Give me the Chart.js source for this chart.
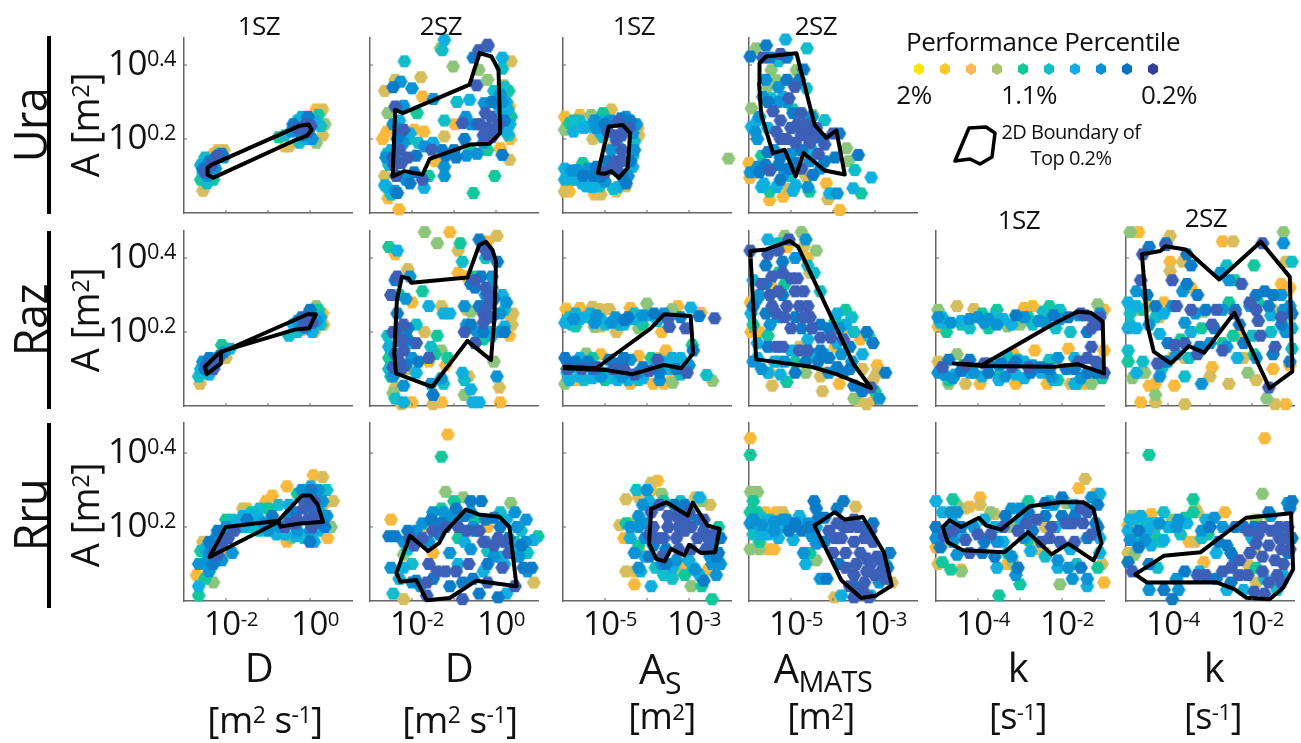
<!DOCTYPE html>
<html><head><meta charset="utf-8">
<script src="https://cdn.jsdelivr.net/npm/chart.js@4"></script>
<style>
html,body{margin:0;padding:0;background:#fff;overflow:hidden}
#stage{position:relative;width:1301px;height:743px;font-family:"Open Sans",sans-serif;color:#111}
canvas{position:absolute}
.t{position:absolute;white-space:nowrap;transform:translate(-50%,-50%);line-height:1;letter-spacing:-.5px}
.t sup{font-size:.62em;vertical-align:baseline;position:relative;top:-.42em;line-height:0}
.t sub{font-size:.72em;vertical-align:baseline;position:relative;top:.32em;line-height:0}
.bar{position:absolute;background:#000;width:4px}
svg{position:absolute;left:0;top:0}
</style></head><body><div id="stage"></div>
<script>
// Percentile rank colours: 0 = 2% ... 9 = 0.2%
const rankColors=['#FFE600','#F9B93A','#D8BD5C','#8DC57A','#12C79C','#10BDC8','#0FB0E0','#0A94D6','#0C7CC8','#3C5FB8'];
const legendColors=['#FFE600','#FBC72B','#F7B955','#A9C46C','#10C99A','#10BFC4','#10AEE3','#0C92D6','#0772C4','#343C9E'];
const rowNames=['Ura','Raz','Rru'];
const yTickValues=[0.2,0.4];
const yTickExponents=['0.2','0.4'];
const xTicksD=[-2,0];
const xTicksAs=[-5,-3];
const xTicksK=[-4,-2];

// [log10 x, log10 A, rank]
const uraD1=[[-2.55,.06,2],[-2.3,.16,1],[-2.2,.17,2],[-2.05,.17,2],[-.6,.18,1],[-.5,.18,2],[.15,.19,3],[.3,.21,2],[.35,.24,3],[.3,.28,2],[.15,.28,1],[-2.6,.09,4],[-2.3,.09,4],[.2,.265,4],[-.75,.205,4],[-2.55,.11,5],[-2.45,.08,5],[-2.5,.15,5],[-.6,.21,5],[.25,.235,5],[-.25,.19,5],[-.3,.25,5],[-2.6,.13,6],[-2.35,.13,6],[-2.15,.16,6],[-.1,.2,6],[-.2,.26,6],[.1,.25,6],[-2.05,.15,7],[-2.25,.12,7],[-2.45,.1,7],[.05,.2,7],[-.45,.22,7],[-.15,.23,7],[-2.55,.12,8],[-2.4,.14,8],[-2.25,.15,8],[-2.1,.16,8],[-.4,.24,8],[-.05,.26,8],[-.2,.21,8],[-2.5,.11,9],[-2.35,.13,9],[-2.2,.155,9],[-.3,.23,9],[-.1,.24,9],[-.05,.22,9],[.02,.235,9]];
const uraD1Edge=[[-2.44,.122],[-2.35,.13],[-.24,.236],[-.03,.239],[.04,.225],[-.07,.209],[-.41,.194],[-2.31,.095],[-2.44,.104],[-2.44,.122]];

const uraD2=[[-2.31,.01,1],[-2.57,.04,1],[-2.65,.33,2],[-2.4,.36,2],[-1.79,.367,2],[-1.75,.315,1],[.32,.288,1],[.1,.175,1],[-.98,.24,1],[-2.7,.2,1],[-2.6,.22,1],[-1.95,.225,1],[-1.72,.22,1],[-1.45,.14,1],[.34,.2,1],[.36,.41,2],[.32,.144,2],[-1.23,.207,2],[-2.65,.1,2],[-1.32,.445,3],[-1.02,.396,3],[-2.57,.27,3],[-.41,.387,3],[-.2,.36,3],[.19,.345,3],[-.03,.1,4],[-.54,.054,4],[-1.88,.27,4],[-1.6,.1,4],[-2.1,.2,4],[.36,.26,4],[-.6,.17,4],[-.2,.17,4],[-1.28,.44,5],[-2.18,.41,5],[-.93,.3,5],[-1.23,.25,5],[.15,.39,5],[.3,.21,5],[-2.55,.13,5],[-2.5,.05,5],[-1.23,.468,6],[-.63,.306,6],[.15,.42,6],[-1.71,.068,6],[-2.65,.075,6],[.25,.22,6],[-2.3,.14,6],[-2.5,.17,6],[-1.5,.19,6],[.33,.24,6],[.1,.28,6],[-2.27,.355,7],[-2,.337,7],[-1.49,.308,7],[-.72,.26,7],[-.28,.297,7],[.02,.297,7],[.1,.32,7],[-1.23,.1,7],[-1.23,.125,7],[-2.62,.15,7],[-2.2,.19,7],[.15,.157,8],[-2.35,.054,8],[-2.45,.34,8],[-2.25,.22,8],[-1.28,.17,8],[-1.0,.17,8],[-.75,.2,8],[-.2,.45,8],[-.54,.42,8],[-.1,.3,8],[.2,.25,8],[-1.9,.155,8],[-2.4,.288,9],[-2.2,.225,9],[-2.1,.15,9],[-2.25,.135,9],[-2.38,.1,9],[-2.43,.13,9],[-1.75,.09,9],[-1.53,.171,9],[-.8,.243,9],[-.46,.345,9],[-.41,.44,9],[-.2,.455,9],[-.37,.24,9],[-.25,.27,9],[-.12,.26,9],[-.2,.23,9],[-.05,.225,9],[-.1,.205,9],[.06,.24,9],[-.3,.21,9]];
const uraD2Fill=[[-.45,.24,8],[-.6,.24,7],[-.3,.19,7],[.15,.3,7],[.25,.3,6],[.2,.34,5],[-.05,.33,5],[.3,.33,4],[.28,.28,6],[-1.2,.155,8],[-.95,.15,8],[-.7,.155,7],[-.45,.16,7],[-2.6,.16,5],[-2.15,.09,7],[-1.95,.11,8],[-2.05,.08,8],[-2.45,.24,7],[-2.3,.25,6],[-2.05,.215,6],[-1.85,.19,5],[-1.7,.18,7],[-2.6,.07,6],[-2.45,.15,9],[-2.3,.17,9],[-2.35,.2,8],[-2.4,.06,7],[-2.2,.29,7]];
const uraD2Edge=[[-2.46,.099],[-2.4,.279],[-2.22,.27],[-.63,.347],[-.39,.432],[-.11,.423],[.06,.387],[.1,.216],[-.16,.187],[-.63,.185],[-1.58,.146],[-1.75,.104],[-2.18,.113],[-2.46,.099]];

const uraAs=[[-5.96,.26,1],[-5.6,.265,1],[-4.22,.23,1],[-4.85,.175,1],[-5.85,.058,1],[-5.25,.05,1],[-5.1,.05,2],[-4.74,.058,1],[-4.5,.072,2],[-5.96,.058,2],[-4.85,.28,2],[-4.2,.21,2],[-5.29,.2,2],[-5.96,.225,3],[-5.33,.265,3],[-2.06,.147,3],[-5.84,.243,4],[-5.05,.27,4],[-5.53,.135,4],[-5.8,.09,4],[-4.65,.175,4],[-5.6,.25,5],[-5.13,.072,5],[-4.3,.193,5],[-4.34,.153,5],[-5.75,.25,5],[-4.8,.065,5],[-5.37,.233,6],[-5.13,.22,6],[-5.96,.09,6],[-5.96,.12,6],[-5.45,.072,6],[-4.7,.07,6],[-4.34,.125,6],[-5.7,.09,6],[-5.21,.23,7],[-4.93,.247,7],[-4.34,.216,7],[-5.68,.116,7],[-5.4,.12,7],[-4.85,.25,7],[-4.4,.25,8],[-5.52,.1,8],[-5.29,.1,8],[-4.62,.256,8],[-4.5,.08,8],[-5.1,.098,8],[-4.93,.22,9],[-4.69,.247,9],[-4.54,.229,9],[-4.73,.197,9],[-4.42,.23,9],[-4.75,.21,9],[-4.6,.21,9],[-4.6,.17,9],[-4.75,.14,9],[-4.6,.14,9],[-4.85,.12,9],[-4.7,.115,9],[-5,.11,9]];
const uraAsFill=[[-5.75,.22,6],[-5.5,.23,6],[-5.25,.25,7],[-5,.24,8],[-4.5,.26,7],[-4.25,.24,7],[-4.3,.17,7],[-4.85,.17,7],[-5.8,.115,7],[-5.55,.08,6],[-5.3,.07,6],[-5,.085,7],[-4.6,.1,8],[-4.45,.1,7],[-4.4,.14,8],[-5.2,.125,8],[-4.95,.14,8],[-5.05,.205,5],[-5.6,.115,5],[-5.15,.25,6]];
const uraAsEdge=[[-5.17,.108],[-4.91,.234],[-4.58,.238],[-4.4,.216],[-4.46,.122],[-4.67,.095],[-4.85,.113],[-5.01,.106],[-5.17,.108]];

const uraAm=[[-5.19,.044,1],[-5.51,.035,1],[-3.84,.008,1],[-4.16,.08,1],[-5.98,.095,1],[-6,.135,1],[-4.12,.037,2],[-5.07,.065,2],[-5.07,.359,2],[-4.65,.1,2],[-4.7,.155,2],[-5.83,.445,3],[-5.47,.386,3],[-5.35,.359,3],[-5.56,.34,3],[-4.87,.386,3],[-5.94,.283,3],[-4.48,.265,3],[-3.68,.175,3],[-3.63,.14,3],[-5.51,.058,4],[-4.56,.058,4],[-5.7,.155,4],[-4.95,.28,4],[-3.33,.053,4],[-4.62,.445,5],[-5.3,.41,5],[-4.63,.337,5],[-4.2,.251,5],[-5.47,.31,5],[-3.48,.116,5],[-5.0,.1,5],[-5.13,.469,6],[-5.94,.233,6],[-5.2,.314,6],[-5.65,.08,6],[-4.89,.075,6],[-3.09,.096,6],[-3.52,.067,6],[-4.08,.053,6],[-5.8,.25,6],[-4.5,.17,6],[-5.85,.22,7],[-5.97,.11,7],[-5.79,.125,7],[-5.15,.11,7],[-5.67,.314,7],[-5.1,.3,7],[-3.9,.053,7],[-5.59,.453,8],[-5.97,.423,8],[-5.25,.09,8],[-5.55,.165,8],[-4.89,.135,8],[-4.48,.103,8],[-4.7,.388,8],[-3.4,.157,8],[-3.85,.215,8],[-3.95,.15,8],[-5.6,.13,8],[-5.67,.42,9],[-5.25,.43,9],[-4.91,.341,9],[-5.43,.275,9],[-5.25,.25,9],[-5.05,.31,9],[-4.85,.24,9],[-4.6,.225,9],[-4.45,.205,9],[-5.0,.23,9],[-4.75,.21,9],[-4.55,.19,9],[-4.2,.185,9],[-4,.215,9],[-4.35,.16,9],[-4.9,.19,9],[-5.25,.2,9]];
const uraAmFill=[[-5.5,.42,8],[-5.1,.42,8],[-5.6,.36,7],[-5.3,.34,7],[-5.1,.36,8],[-4.8,.36,8],[-5.55,.3,8],[-5.3,.3,7],[-4.95,.27,8],[-4.75,.27,9],[-4.5,.26,7],[-5.75,.26,7],[-5.8,.2,7],[-5.55,.23,6],[-5.35,.22,9],[-5.1,.2,9],[-4.8,.23,9],[-4.65,.24,9],[-4.4,.23,9],[-4.25,.2,8],[-5.4,.17,7],[-5.25,.15,8],[-5,.16,7],[-4.75,.17,8],[-4.55,.14,7],[-4.2,.14,8],[-5.75,.11,8],[-5.5,.115,9],[-5.3,.13,8],[-5.05,.12,8],[-4.75,.12,9],[-5.7,.07,6],[-5.35,.07,6],[-4.95,.06,6],[-4.3,.12,7],[-4.6,.07,7]];
const uraAmEdge=[[-5.75,.405],[-5.59,.423],[-4.87,.432],[-4.44,.239],[-4.16,.203],[-3.92,.223],[-3.72,.104],[-4.2,.115],[-4.7,.162],[-4.89,.099],[-5.15,.171],[-5.43,.162],[-5.71,.266],[-5.76,.351],[-5.75,.405]];

const razD1=[[-2.62,.06,2],[-2.55,.11,1],[-2.4,.12,1],[-2,.13,2],[-.2,.205,1],[.1,.2,2],[.32,.22,2],[.3,.25,1],[.15,.27,3],[-2.1,.165,4],[-2.5,.09,4],[.2,.26,4],[-.5,.19,5],[-2.65,.08,5],[-1.9,.155,5],[-.3,.2,5],[.25,.22,5],[.25,.24,6],[-2.6,.1,6],[-2.4,.085,6],[.05,.2,6],[-.4,.22,6],[-2.05,.145,7],[-2.55,.12,7],[-.1,.21,7],[.15,.23,7],[-.3,.23,7],[-2.2,.13,7],[-2.5,.1,8],[-2.15,.135,8],[0,.26,8],[-.2,.24,8],[-2.4,.13,8],[-2.45,.11,9],[-2.3,.1,9],[-2.25,.115,9],[-.1,.24,9],[-.02,.235,9],[-.15,.215,9],[.05,.225,9]];
const razD1Edge=[[-2.46,.086],[-2.5,.106],[-2.18,.142],[-.06,.248],[.14,.248],[-.02,.21],[-.34,.207],[-2.12,.147],[-2.12,.115],[-2.46,.086]];

const razD2=[[-2.4,.41,1],[-.9,.36,1],[-.7,.35,1],[-.9,.42,2],[-1.4,.44,3],[-1.1,.47,1],[-1.7,.47,3],[.02,.46,2],[-.2,.445,1],[-2.1,.37,2],[-2,.28,1],[-1.3,.27,2],[-.7,.26,2],[.35,.24,1],[.38,.22,2],[.4,.25,2],[.32,.19,1],[-1.7,.2,2],[-1.6,.12,1],[-1.2,.11,1],[-2.1,.1,2],[-2.45,.08,1],[-.65,.08,2],[-2.4,.05,2],[-2.25,.005,2],[-1.5,.005,2],[-1.3,.01,1],[.08,.05,2],[.1,.01,1],[-2,.01,1],[-.4,.01,6],[-.75,.03,3],[-2.45,.035,3],[-1.3,.15,3],[-.62,.21,3],[-.05,.12,3],[-.6,.255,3],[-2.55,.43,4],[-2.3,.3,4],[-1.75,.31,4],[-.5,.35,4],[-.85,.44,4],[-2.55,.13,4],[-2.5,.08,4],[-1.45,.14,4],[-1.4,.19,4],[-1.15,.13,4],[-.3,.18,4],[-.25,.4,5],[-.8,.39,5],[-1.9,.22,5],[-1.55,.16,5],[-.75,.07,5],[-1.25,.06,5],[-2.4,.02,5],[-2.58,.19,5],[.2,.26,5],[-.5,.17,5],[-2.55,.1,5],[-2.35,.42,6],[-.2,.42,6],[-1.6,.27,6],[-.8,.09,6],[-1.1,.25,6],[-1.25,.25,6],[-.6,.045,6],[-.55,.01,6],[-2.2,.01,6],[-2.3,.2,6],[.2,.215,6],[-.15,.2,6],[-2.0,.17,6],[-1.3,.075,7],[-.1,.35,7],[-.25,.3,7],[-2.05,.35,7],[-1.55,.06,7],[-2.45,.08,7],[-2.2,.055,7],[-.75,.27,7],[-.7,.22,7],[.02,.08,7],[.1,.2,7],[.1,.25,7],[-1.85,.12,8],[-.5,.32,8],[.03,.39,8],[-.4,.45,8],[-.6,.33,8],[-.1,.24,8],[-2.4,.34,8],[-2.3,.175,8],[-2.1,.18,8],[-1.5,.03,8],[-2.35,.35,9],[-2.5,.3,9],[-2.38,.2,9],[-2.2,.22,9],[-2.2,.15,9],[-2.4,.14,9],[-2.3,.12,9],[-2.45,.105,9],[-1.9,.17,9],[-.75,.2,9],[-.5,.17,9],[-.5,.34,9],[-.3,.25,9],[-.3,.225,9],[-.2,.27,9],[-.18,.3,9],[-.15,.24,9],[-.3,.43,9],[-.2,.41,9],[-1.6,.13,9]];
const razD2Fill=[[-.35,.35,8],[-.25,.32,9],[-.1,.32,7],[-.4,.27,8],[-.05,.29,8],[.15,.3,6],[.25,.28,7],[.2,.2,8],[-.6,.22,8],[-.45,.2,7],[-.3,.2,8],[-.1,.19,6],[-2.35,.25,8],[-2.15,.29,7],[-2.25,.1,9],[-2.15,.11,8],[-2,.13,7],[-1.9,.09,6],[-2.55,.16,6],[-2.45,.2,9],[-2.25,.18,9],[-2.1,.21,8]];
const razD2Edge=[[-2.38,.088],[-2.42,.142],[-2.36,.286],[-2.24,.349],[-2.08,.345],[-2.02,.333],[-.68,.347],[-.4,.435],[-.24,.444],[-.08,.421],[0,.39],[-.04,.232],[-.12,.124],[-.68,.176],[-1.52,.052],[-2.38,.088]];

const razAs=[[-5.93,.263,1],[-5.6,.265,1],[-5.05,.26,1],[-4.4,.265,1],[-3.27,.27,1],[-2.72,.252,1],[-3.65,.2,1],[-3.6,.06,1],[-3.4,.075,1],[-3.85,.06,1],[-5.7,.07,1],[-4.4,.06,1],[-3.55,.15,1],[-5.3,.268,2],[-5.15,.262,2],[-4.9,.262,2],[-3.4,.262,2],[-4.73,.2,2],[-5.1,.215,2],[-5.1,.14,1],[-4.2,.135,1],[-3.7,.13,2],[-4,.277,3],[-5.25,.214,3],[-5.45,.142,3],[-3.39,.063,3],[-5.95,.06,3],[-3.4,.26,3],[-2.44,.068,3],[-4.2,.21,3],[-4.1,.22,4],[-2.92,.165,4],[-5.7,.215,4],[-5.3,.13,4],[-3.9,.13,4],[-3.4,.11,4],[-5,.07,4],[-4.55,.22,5],[-5.85,.24,5],[-5.45,.24,5],[-4.3,.25,5],[-2.96,.266,6],[-2.58,.084,5],[-3.65,.12,6],[-3.4,.13,6],[-3.2,.13,6],[-5.9,.09,5],[-5.5,.07,5],[-4.85,.075,5],[-4.45,.07,6],[-4.1,.075,6],[-5.95,.225,6],[-5.7,.25,6],[-5.35,.25,6],[-5.1,.235,6],[-4.35,.235,6],[-3.75,.23,6],[-3.6,.25,7],[-5.6,.08,6],[-3.8,.11,6],[-5.1,.08,7],[-4.6,.08,7],[-5.75,.235,7],[-5.25,.225,7],[-4.75,.24,7],[-4.85,.225,7],[-4.1,.245,7],[-3,.11,7],[-2.9,.15,8],[-5.95,.13,8],[-5.7,.12,8],[-5.4,.12,8],[-4.9,.125,8],[-4.55,.13,8],[-4.1,.105,8],[-3.7,.09,8],[-3.3,.1,8],[-5.9,.1,9],[-5.55,.1,9],[-5.2,.105,9],[-4.8,.1,9],[-4.55,.1,9],[-4.3,.085,9],[-3.05,.09,9],[-2.76,.243,8],[-2.39,.237,9],[-4.54,.232,8],[-3.83,.25,8],[-3.47,.214,9],[-3.5,.235,9],[-3.08,.21,9],[-3.2,.24,8]];
const razAsFill=[[-5.6,.235,6],[-5.2,.245,7],[-5,.22,5],[-4.65,.22,6],[-4.45,.24,8],[-4.2,.235,5],[-3.95,.245,6],[-5.8,.22,5],[-5.8,.105,7],[-5.6,.13,6],[-5.3,.1,8],[-5,.09,6],[-4.7,.115,8],[-4.4,.125,7],[-4.2,.09,7],[-3.95,.095,9],[-3.75,.125,9],[-3.5,.1,6],[-3.2,.085,5],[-5.85,.07,6],[-5.3,.075,6],[-4.7,.07,6],[-4.2,.07,5],[-3.7,.07,7]];
const razAsEdge=[[-5.96,.106],[-5.21,.102],[-3.91,.21],[-3.59,.248],[-2.96,.243],[-2.9,.142],[-3.19,.102],[-3.59,.111],[-4.34,.086],[-4.97,.097],[-5.96,.102]];

const razAm=[[-5.97,.28,1],[-5.1,.43,1],[-4.7,.43,2],[-4.62,.4,1],[-4.55,.36,2],[-5.45,.32,1],[-5.75,.2,1],[-4.8,.16,2],[-5.95,.2,1],[-5.5,.09,2],[-5.45,.055,2],[-3.35,.18,1],[-3.95,.16,1],[-3.8,.2,1],[-4.3,.08,2],[-4.2,.09,1],[-3.85,.06,1],[-3.3,.1,2],[-3.05,.07,2],[-2.95,.11,1],[-2.95,.09,2],[-3.4,.015,2],[-3.2,.005,2],[-4.25,.04,2],[-3,.02,1],[-5.15,.46,3],[-4.75,.47,3],[-4.4,.42,3],[-3.5,.02,3],[-4.65,.09,3],[-5.1,.065,4],[-4.45,.36,5],[-5.3,.44,5],[-3.5,.2,5],[-3.55,.24,5],[-3.15,.19,5],[-4.6,.38,5],[-4.3,.31,5],[-5.3,.36,4],[-5.15,.33,4],[-5.9,.22,4],[-5.55,.19,4],[-5.3,.12,4],[-4.9,.12,4],[-3.7,.26,4],[-3.95,.23,4],[-3,.04,4],[-5.55,.45,6],[-4.65,.45,7],[-5.95,.25,6],[-5.8,.13,6],[-5.55,.09,6],[-5.25,.085,6],[-3.7,.22,6],[-3.3,.14,6],[-3.55,.12,7],[-4.2,.14,6],[-5,.15,6],[-4.6,.18,6],[-3.9,.17,6],[-4.5,.14,6],[-2.9,.02,7],[-3.2,.2,8],[-2.75,.09,8],[-3.05,.17,8],[-4.9,.4,7],[-5.8,.29,7],[-5.5,.22,7],[-5.3,.24,7],[-5.9,.12,7],[-4.9,.09,8],[-3.9,.105,8],[-3.3,.04,8],[-3.6,.1,8],[-3.5,.055,8],[-5.6,.38,8],[-5.2,.39,8],[-5.55,.41,9],[-5.97,.42,9],[-5.3,.42,9],[-5.05,.45,9],[-5.7,.33,9],[-5.3,.31,9],[-5,.345,9],[-4.85,.345,9],[-4.7,.31,9],[-5.45,.27,9],[-5.1,.27,9],[-4.8,.27,9],[-4.6,.27,9],[-4.55,.24,9],[-5,.21,9],[-5.35,.16,9],[-5.2,.16,9],[-4.6,.15,9],[-4.3,.185,9],[-4.05,.185,9],[-3.75,.18,9],[-3.1,.05,9]];
const razAmFill=[[-5.9,.34,6],[-5.75,.3,7],[-5.9,.27,8],[-5.6,.33,8],[-5.45,.35,9],[-5.2,.36,9],[-5.5,.3,9],[-5.2,.3,8],[-4.9,.31,9],[-5.6,.25,8],[-5.35,.25,9],[-5.15,.24,9],[-4.9,.24,8],[-4.7,.24,9],[-4.75,.21,8],[-4.5,.21,9],[-4.3,.22,8],[-4.1,.21,8],[-3.85,.21,7],[-3.9,.25,6],[-5.8,.17,6],[-5.55,.16,8],[-5.15,.12,7],[-4.65,.12,8],[-4.35,.12,8],[-4.1,.13,8],[-4.8,.15,9],[-4.3,.15,8],[-3.8,.14,7],[-3.6,.16,8],[-5.7,.1,7],[-5.4,.12,6],[-4.1,.09,7],[-3.75,.09,8]];
const razAmEdge=[[-5.97,.419],[-5.59,.423],[-5.03,.446],[-4.83,.43],[-3.52,.115],[-3.09,.048],[-3.92,.086],[-4.52,.106],[-5.83,.126],[-5.97,.419]];

const razK1=[[-4.5,.27,2],[-4.1,.262,2],[-2.9,.265,1],[-2.7,.27,1],[-3.3,.215,3],[-3,.22,3],[-4.95,.26,3],[-4.95,.215,1],[-3.5,.225,2],[-4.5,.14,3],[-4.95,.12,2],[-3.15,.14,1],[-2.65,.15,1],[-1.85,.155,1],[-4.3,.06,2],[-3.95,.06,1],[-3.1,.06,1],[-2.35,.06,1],[-1.8,.06,2],[-1.5,.06,1],[-1.15,.275,3],[-1,.26,1],[-4.7,.06,3],[-1.3,.06,3],[-1,.15,1],[-4.75,.2,4],[-4.4,.22,4],[-3.75,.21,4],[-2.3,.27,4],[-4.7,.07,4],[-3.9,.25,4],[-3.55,.26,4],[-2.8,.24,4],[-3.5,.08,4],[-2.1,.07,4],[-1.05,.075,4],[-4.35,.11,4],[-4.4,.23,6],[-3.6,.245,5],[-2.7,.22,5],[-2.45,.255,5],[-2.15,.21,5],[-2.05,.26,5],[-4.55,.085,6],[-3.3,.135,5],[-3.05,.125,5],[-2.3,.125,5],[-1.7,.13,6],[-1.65,.06,5],[-3.1,.085,6],[-4.85,.24,6],[-3.2,.22,6],[-2.9,.12,6],[-2.1,.13,7],[-2.5,.09,6],[-3.9,.08,6],[-3.35,.08,7],[-4.95,.09,7],[-4.6,.075,7],[-4.1,.09,7],[-4.95,.24,7],[-4.2,.235,7],[-4,.24,7],[-3.85,.225,7],[-3.55,.22,7],[-2.9,.24,7],[-2.4,.225,7],[-2.05,.235,7],[-1.6,.245,7],[-1.1,.25,7],[-2.25,.08,7],[-1.55,.075,7],[-1.15,.115,7],[-4.7,.125,8],[-4.2,.125,8],[-3.75,.115,8],[-2.5,.105,8],[-1.2,.09,8],[-1,.09,9],[-1.7,.1,8],[-2.75,.09,8],[-3.45,.115,8],[-4.3,.11,9],[-4.85,.105,9],[-3.85,.115,9],[-3.2,.105,9],[-2.8,.105,9],[-1.4,.13,9],[-1.2,.12,9],[-1.45,.245,9],[-1.25,.235,9],[-1.15,.22,9],[-1.3,.21,9],[-1.1,.24,9],[-1.55,.25,9]];
const razK1Fill=[[-4.9,.225,6],[-4.65,.225,7],[-4.2,.21,5],[-3.75,.235,7],[-3.4,.235,6],[-3.1,.245,8],[-2.55,.23,7],[-2.2,.245,8],[-1.85,.24,8],[-1.8,.2,5],[-4.8,.085,7],[-4.4,.095,8],[-4.2,.09,6],[-3.75,.09,8],[-3.5,.11,7],[-3.1,.12,8],[-2.7,.11,7],[-2.3,.1,8],[-1.9,.1,8],[-1.6,.12,9],[-1.4,.09,8],[-1.3,.16,9],[-3.5,.07,6],[-2.9,.075,6],[-2.2,.07,6],[-1.7,.06,6],[-1.4,.2,8]];
const razK1Edge=[[-4.58,.115],[-3.9,.111],[-2.19,.223],[-1.63,.255],[-1.31,.252],[-1.03,.228],[-1,.088],[-1.63,.113],[-2.19,.106],[-3.9,.108],[-4.58,.115]];

const razK2=[[-4.9,.47,3],[-4.7,.47,1],[-3.95,.46,2],[-2.7,.445,1],[-2.45,.445,2],[-1.25,.47,3],[-3.95,.39,1],[-3.65,.39,2],[-3.95,.365,2],[-1.2,.39,2],[-1.3,.33,1],[-4.1,.28,1],[-4.5,.27,1],[-2.55,.265,1],[-1.5,.26,2],[-1.1,.32,1],[-4.7,.26,2],[-3.45,.32,1],[-3.15,.255,3],[-4.2,.24,2],[-1.45,.25,1],[-2.3,.19,1],[-1.1,.24,3],[-2.95,.105,1],[-3.6,.13,2],[-3.9,.13,1],[-4.55,.09,3],[-4.3,.06,1],[-4.45,.055,1],[-3.85,.055,1],[-2.55,.06,2],[-3,.08,2],[-2.1,.09,3],[-1.9,.07,2],[-1.5,.1,1],[-1.1,.11,1],[-4.85,.075,3],[-4.3,.03,3],[-4.3,.01,2],[-3.6,.005,2],[-1.65,.02,3],[-1.45,.005,2],[-1.2,.005,1],[-4.65,.01,1],[-2.2,.13,2],[-1.95,.14,4],[-2.6,.38,5],[-1.95,.38,4],[-2.75,.36,3],[-2.4,.34,4],[-1.85,.28,4],[-4.95,.28,6],[-4.6,.26,4],[-4.75,.21,6],[-4.9,.22,5],[-4.95,.12,4],[-4.95,.15,5],[-4.6,.12,5],[-4.75,.09,6],[-4.15,.1,5],[-3.6,.08,5],[-4,.12,5],[-3.5,.13,5],[-2.7,.17,4],[-2.45,.19,4],[-2.55,.28,4],[-4.1,.25,6],[-3.2,.21,4],[-3.7,.18,4],[-4.2,.195,6],[-2.35,.13,6],[-2,.19,5],[-1.55,.2,5],[-1.05,.39,5],[-1.25,.44,7],[-1.1,.27,7],[-1.05,.21,6],[-1.05,.155,5],[-4.95,.21,6],[-1.55,.245,6],[-4.45,.22,7],[-3.9,.27,7],[-4.45,.43,8],[-4.05,.44,8],[-3.55,.41,8],[-4.75,.31,7],[-3.65,.31,7],[-3,.17,7],[-2.6,.16,7],[-2.05,.27,7],[-1.2,.2,7],[-1.9,.13,7],[-3.2,.06,7],[-4.2,.08,7],[-4.05,.12,8],[-3.8,.14,7],[-3.45,.38,8],[-3.55,.33,8],[-4.3,.27,8],[-3.6,.225,7],[-3.35,.25,7],[-2.75,.36,7],[-2.55,.34,7],[-1.7,.31,8],[-1.9,.3,8],[-1.5,.3,8],[-1.05,.25,8],[-1.3,.22,8],[-1.1,.12,8],[-1.5,.14,8],[-1.6,.05,9],[-2.4,.26,8],[-2.9,.21,8],[-3.25,.16,8],[-4.65,.34,9],[-4.6,.41,9],[-4.05,.435,9],[-3.9,.34,9],[-3.8,.27,9],[-3.45,.26,9],[-2.85,.26,9],[-2.4,.25,9],[-2.25,.33,9],[-2.05,.28,9],[-1.9,.26,9],[-1.85,.23,9],[-1.8,.19,9],[-1.45,.16,9],[-3.85,.165,9],[-3.6,.17,9],[-2.7,.15,9],[-3.3,.14,9],[-4.25,.115,9],[-2.95,.22,9],[-1.3,.24,9],[-1.75,.44,9]];
const razK2Fill=[[-4.9,.25,5],[-4.75,.27,6],[-4.5,.3,8],[-4.3,.24,5],[-3.3,.3,8],[-3.1,.26,8],[-2.7,.26,7],[-2.3,.22,8],[-2.2,.17,8],[-1.6,.27,8],[-1.3,.3,7],[-1.25,.26,7],[-4,.17,8],[-3.45,.2,6]];
const razK2Edge=[[-4.62,.41],[-4.18,.419],[-4.06,.432],[-3.58,.423],[-2.78,.342],[-1.79,.444],[-1.1,.349],[-1.04,.093],[-1.58,.048],[-2.42,.252],[-3.14,.144],[-3.5,.162],[-3.94,.115],[-4.34,.147],[-4.5,.223],[-4.54,.295],[-4.62,.41]];

const rruD1=[[.08,.34,1],[.3,.335,2],[.32,.26,2],[-.55,.31,1],[-.9,.285,1],[-1.5,.25,1],[-2.55,.16,2],[-2.7,.07,1],[-2.15,.12,1],[-2.05,.13,2],[-1.6,.25,2],[-1.05,.27,1],[-.55,.16,1],[.42,.17,1],[.55,.27,2],[.5,.2,3],[-1.75,.215,3],[-2.3,.05,3],[-.45,.17,3],[-2.6,.135,4],[-2.5,.06,4],[-2.65,.015,4],[-1.9,.2,4],[-1.4,.24,4],[-1,.25,4],[-.3,.29,4],[-2,.22,4],[.4,.3,5],[-1.85,.22,5],[-.9,.21,5],[-.55,.21,5],[-.75,.26,5],[-.15,.17,5],[.3,.2,6],[-2.65,.04,6],[-2.6,.1,6],[-1.6,.2,6],[-1.2,.22,6],[-1.35,.23,6],[-.35,.175,6],[.1,.16,6],[.02,.31,6],[.25,.24,6],[-2.4,.08,7],[-2.65,.1,7],[-2.4,.13,7],[-1.85,.13,7],[-2.1,.11,7],[-1.1,.21,7],[-.5,.23,7],[-.7,.2,7],[0,.16,8],[-.1,.27,7],[.1,.24,8],[-2.4,.16,8],[-2.2,.19,8],[-2.3,.1,8],[-1.5,.22,8],[-.9,.23,8],[-.35,.24,8],[.02,.3,8],[-2.3,.13,9],[-2.1,.155,9],[-1.95,.17,9],[-1.8,.19,9],[-2.2,.125,9],[-.5,.21,9],[-.3,.22,9],[-.15,.25,9],[0,.265,9],[.1,.23,9],[.2,.22,9],[-.05,.22,9],[-.6,.2,9]];
const rruD1Fill=[[-2.45,.11,7],[-2.5,.14,6],[-2.25,.17,7],[-2,.2,7],[-1.75,.21,6],[-1.45,.2,5],[-1.2,.19,5],[-1,.19,7],[-.8,.18,6],[-.6,.18,6],[-.3,.19,7],[0,.19,7],[.2,.19,6],[.35,.2,8],[.4,.23,7],[.3,.27,7],[.2,.3,7],[-.2,.3,7],[-.5,.26,6],[-1.2,.25,5],[-1.6,.23,6],[-1.95,.19,7],[-.15,.27,9],[.1,.27,9],[-.35,.21,9],[.05,.2,9]];
const rruD1Edge=[[-2.39,.119],[-2.01,.2],[-.75,.217],[-.2,.285],[.01,.285],[.18,.261],[.31,.214],[-.28,.209],[-.7,.201],[-.75,.214],[-2.39,.119]];

const rruD2=[[-1.15,.45,1],[-1.65,.2,2],[-2.5,.22,1],[-.78,.28,3],[-1.2,.295,3],[.9,.05,2],[.35,.265,3],[-2.3,.06,2],[-1,.24,1],[-2.2,.005,2],[-1.5,.13,1],[-.2,.2,1],[-2.2,.125,3],[-1.3,.39,4],[-1,.27,4],[1,.175,4],[-1.3,.25,4],[-.5,.22,4],[.45,.16,4],[-.9,.17,4],[.9,.165,6],[.6,.19,5],[.75,.13,5],[-.2,.135,5],[-2.45,.02,5],[-2,.1,5],[-2.1,.14,5],[.1,.24,5],[.4,.15,6],[-2.2,.09,6],[-2.3,.06,6],[-1.4,.21,6],[-.9,.1,6],[-.3,.08,6],[.25,.02,6],[.2,.1,6],[-1.1,.23,7],[-.6,.24,7],[-.25,.16,7],[-.05,.12,7],[.72,.22,7],[.75,.08,7],[.55,.12,7],[-2.5,.09,7],[-1.8,.04,7],[-1.9,.19,7],[-1.6,.16,7],[-1.5,.24,7],[.45,.24,7],[-2.55,.175,8],[-2.4,.175,8],[-.6,.27,8],[-.35,.27,8],[-.05,.225,8],[-.4,.02,8],[.05,.01,8],[.65,.09,8],[-1.9,.055,8],[-1.1,.04,8],[-.8,.05,8],[-1.35,.18,8],[.85,.09,8],[-.5,.19,8],[-.4,.19,9],[-.7,.19,9],[-.9,.2,9],[-1.2,.2,9],[-1.5,.19,9],[-1.75,.17,9],[-1.95,.15,9],[-2.05,.17,9],[-1.6,.1,9],[-1.4,.08,9],[-1.2,.08,9],[-.95,.08,9],[-.65,.1,9],[-.3,.16,9],[.2,.16,9],[.3,.13,9],[.05,.17,9],[-.05,.15,9],[-1.65,.05,9],[-1.65,.015,9],[-.8,.005,9],[-.2,.05,9],[.15,.09,9],[.45,.04,9]];
const rruD2Fill=[[-1.55,.22,8],[-1.25,.24,7],[-.95,.25,8],[-.75,.23,8],[-.55,.2,7],[-.25,.22,8],[.1,.2,8],[.25,.22,6],[.3,.17,8],[.5,.2,7],[.6,.15,8],[.7,.16,7],[-1.3,.21,8],[-1,.22,7],[-.75,.16,6],[-1.1,.13,7],[-2.1,.19,8],[-2.2,.16,7],[-1.75,.21,7],[-.6,.14,7],[-.2,.1,8],[.1,.12,6],[-2,.05,7],[-1.5,.06,8],[-.55,.06,8]];
const rruD2Edge=[[-2.37,.076],[-2.05,.176],[-1.62,.135],[-1.35,.157],[-1.23,.185],[-.72,.247],[-.38,.233],[.08,.228],[.32,.2],[.49,.04],[-.47,.055],[-1.1,.008],[-1.65,.002],[-1.9,.057],[-2.28,.052],[-2.37,.076]];

const rruAs=[[-3.9,.32,2],[-3.75,.325,1],[-4.5,.275,2],[-4.2,.28,2],[-3.9,.3,1],[-2.5,.26,2],[-2.85,.28,2],[-4.65,.205,2],[-4.55,.17,1],[-4.2,.14,1],[-4.5,.08,2],[-4.3,.08,1],[-4.3,.045,1],[-2.55,.085,1],[-3.1,.1,1],[-4.35,.21,3],[-3.65,.29,3],[-2.95,.04,3],[-2.7,.27,3],[-3.3,.08,3],[-4.5,.21,4],[-2.7,.04,4],[-3.1,.07,4],[-4.2,.15,4],[-3.6,.27,4],[-2.45,.005,4],[-2.3,.2,4],[-3.6,.07,5],[-3.9,.04,6],[-4.25,.3,5],[-3.4,.06,5],[-3.2,.27,5],[-3.8,.09,5],[-2.75,.28,6],[-3.5,.1,6],[-3.95,.27,6],[-4.4,.17,6],[-2.4,.16,6],[-3,.11,6],[-2.9,.09,6],[-4.3,.13,7],[-4.4,.2,7],[-4.1,.26,7],[-4.2,.09,7],[-3.65,.1,7],[-2.85,.085,7],[-2.5,.12,7],[-2.25,.1,7],[-2.45,.1,7],[-2.35,.07,7],[-4,.3,7],[-4.05,.21,7],[-2.65,.055,8],[-2.3,.13,8],[-2.25,.17,8],[-2.5,.15,8],[-3.35,.26,8],[-3.1,.26,8],[-3.95,.12,8],[-3.55,.1,8],[-3.9,.24,9],[-3.7,.26,9],[-3.5,.23,9],[-3.85,.2,9],[-3.75,.17,9],[-3.5,.2,9],[-3.25,.2,9],[-3.1,.19,9],[-2.95,.2,9],[-3,.24,9],[-2.8,.17,9],[-2.65,.19,9],[-2.4,.18,9],[-3.3,.17,9],[-3.65,.12,9],[-3.25,.14,9],[-2.95,.14,9],[-2.6,.14,9]];
const rruAsFill=[[-4.2,.2,7],[-4.05,.17,7],[-3.85,.15,8],[-3.55,.14,8],[-3.3,.11,7],[-2.8,.22,8],[-2.65,.22,9],[-3.1,.22,9],[-3.3,.23,9],[-3.6,.17,9],[-4.2,.23,7],[-3.95,.18,9],[-2.55,.17,9],[-2.35,.12,8],[-4.05,.12,6],[-3.4,.09,6],[-2.75,.07,6],[-4.15,.08,6]];
const rruAsEdge=[[-3.9,.249],[-3.54,.267],[-3.03,.231],[-2.91,.266],[-2.56,.204],[-2.27,.195],[-2.38,.132],[-2.72,.13],[-2.99,.152],[-3.11,.123],[-3.43,.141],[-3.58,.107],[-3.78,.114],[-3.95,.155],[-3.9,.249]];

const rruAm=[[-5.97,.44,1],[-5.6,.24,1],[-5.35,.24,1],[-5.2,.24,2],[-3.96,.01,2],[-3.46,.255,2],[-5.55,.14,1],[-5.4,.14,1],[-2.6,.05,2],[-5.96,.295,3],[-5.8,.295,3],[-5.75,.14,3],[-5.97,.14,3],[-4.4,.11,3],[-5.97,.395,4],[-5.9,.27,4],[-5.97,.24,4],[-5.75,.16,4],[-4.55,.13,4],[-5.9,.2,5],[-5.5,.22,5],[-5.5,.2,5],[-5.7,.225,5],[-5.9,.18,5],[-4.65,.1,6],[-4.8,.23,6],[-5.2,.2,6],[-4.95,.165,6],[-5.3,.17,6],[-5.7,.18,6],[-4.4,.2,6],[-3.8,.015,6],[-3.1,.015,6],[-2.75,.1,6],[-4.7,.13,7],[-5.97,.21,7],[-5.7,.205,7],[-5.4,.19,7],[-5.1,.22,7],[-4.6,.21,7],[-4.5,.175,7],[-4.4,.155,7],[-4.3,.06,7],[-2.9,.05,7],[-2.7,.09,8],[-3.9,.25,8],[-4.45,.27,8],[-3.75,.27,8],[-2.65,.13,8],[-5.05,.19,8],[-4.9,.21,8],[-4.15,.06,8],[-4.4,.25,8],[-3.05,.21,8],[-3.3,.2,8],[-3.5,.04,8],[-3.5,.01,9],[-3.15,.01,9],[-3.3,.03,9],[-4.35,.225,8],[-4.1,.19,9],[-3.95,.17,9],[-4,.13,9],[-3.75,.2,9],[-3.5,.16,9],[-3.25,.17,9],[-3.05,.16,9],[-2.95,.12,9],[-3.2,.115,9],[-3.45,.1,9],[-3.7,.13,9],[-3.7,.09,9],[-3.2,.08,9],[-3,.07,9],[-2.85,.08,9],[-3.5,.07,9],[-2.75,.06,9],[-3.4,.2,9],[-3.25,.05,9]];
const rruAmFill=[[-5.75,.2,6],[-5.55,.18,6],[-5.2,.22,7],[-5,.2,7],[-4.75,.19,8],[-4.55,.2,8],[-5.8,.24,4],[-5.6,.215,6],[-5.4,.215,7],[-5.9,.22,7],[-4.2,.225,8],[-3.5,.22,9],[-3.1,.19,9],[-3.9,.21,9],[-4.2,.16,8],[-3.85,.1,8],[-3.6,.04,9],[-2.85,.11,9],[-3.1,.1,9],[-3.35,.13,9],[-3.8,.17,9],[-3.6,.2,9]];
const rruAmEdge=[[-4.44,.204],[-3.96,.24],[-3.72,.22],[-3.29,.227],[-2.79,.132],[-2.6,.042],[-2.99,.014],[-3.33,.008],[-3.8,.056],[-4.44,.204]];

const rruK1=[[-1.45,.33,2],[-1.6,.305,1],[-1.2,.29,1],[-3.95,.28,1],[-4.2,.255,1],[-3.95,.26,2],[-4.5,.26,3],[-4.3,.25,2],[-5,.145,1],[-4.85,.15,1],[-4.4,.085,1],[-4.4,.08,3],[-3.3,.1,1],[-3.1,.09,1],[-3.15,.1,3],[-2.6,.14,2],[-2.4,.13,2],[-2.3,.26,1],[-2.9,.25,2],[-1.9,.265,3],[-1.05,.1,2],[-1,.05,1],[-3.7,.24,3],[-4.6,.23,2],[-4.95,.1,2],[-2.05,.045,3],[-3.2,.2,3],[-2.4,.2,2],[-3.6,.235,2],[-4.6,.275,4],[-4.85,.105,4],[-4.65,.085,4],[-3.5,.015,4],[-3,.045,4],[-1.15,.09,4],[-2.3,.27,5],[-2.8,.27,4],[-2.8,.165,4],[-3.3,.13,4],[-2.4,.12,5],[-3.55,.09,6],[-2.1,.09,6],[-1.65,.1,5],[-1.4,.04,6],[-1.8,.14,6],[-2.75,.135,6],[-3.4,.16,6],[-5,.27,6],[-4.85,.24,6],[-4.5,.24,7],[-3.2,.25,7],[-3.0,.22,6],[-2.15,.2,6],[-1.7,.26,6],[-1.1,.29,6],[-1.1,.17,6],[-1.1,.13,6],[-4.4,.18,6],[-3.85,.22,6],[-3.2,.12,7],[-4.9,.145,8],[-4.5,.125,7],[-3.1,.07,7],[-2.1,.11,7],[-1.85,.09,7],[-1.75,.06,7],[-1.4,.06,7],[-4.65,.24,7],[-4.7,.19,8],[-1.3,.28,7],[-1.15,.26,8],[-2,.28,8],[-2.4,.265,8],[-2.8,.24,8],[-1.15,.2,8],[-3.9,.13,8],[-3.6,.12,8],[-3.05,.09,8],[-1.55,.09,8],[-5,.2,8],[-4.8,.175,9],[-4.6,.19,9],[-4.3,.165,9],[-4,.18,9],[-3.7,.18,9],[-3.4,.2,9],[-3.05,.19,9],[-2.6,.22,9],[-2.25,.2,9],[-1.9,.21,9],[-1.5,.21,9],[-1.3,.18,9],[-2.05,.16,9],[-2.5,.16,9],[-1.55,.25,9],[-1.7,.16,9],[-1.4,.24,9],[-4.2,.13,9]];
const rruK1Fill=[[-5,.17,7],[-4.6,.16,7],[-4.4,.2,8],[-4.1,.2,7],[-3.85,.16,8],[-3.55,.16,7],[-3.35,.23,8],[-3,.25,7],[-2.7,.19,8],[-2.4,.23,8],[-2,.23,8],[-1.7,.23,8],[-1.4,.17,8],[-1.2,.21,8],[-2.9,.17,7],[-3.6,.2,6],[-4.6,.21,6],[-2.2,.26,7],[-1.75,.21,9],[-2.3,.17,9],[-2.85,.21,9]];
const rruK1Edge=[[-4.84,.2],[-4.68,.218],[-4.4,.2],[-3.98,.225],[-3.8,.204],[-3.45,.193],[-2.77,.256],[-2.05,.267],[-1.49,.267],[-1.25,.249],[-1.06,.155],[-1.25,.11],[-1.85,.155],[-2.25,.126],[-2.81,.186],[-3.37,.132],[-4.36,.137],[-4.72,.159],[-4.84,.2]];

const rruK2=[[-1.7,.44,1],[-3.35,.25,2],[-2.65,.24,1],[-4.4,.235,1],[-3.3,.24,2],[-3.15,.105,1],[-3.35,.16,2],[-3.5,.16,1],[-2.1,.1,2],[-1.9,.22,3],[-1.9,.05,2],[-1.6,.23,2],[-4.85,.23,3],[-4.8,.125,3],[-3.9,.22,3],[-1.75,.29,3],[-4.95,.13,2],[-4.95,.205,1],[-4.9,.2,2],[-1.95,.14,2],[-4.45,.395,4],[-3.4,.275,4],[-3.4,.24,4],[-3.6,.225,4],[-4.5,.21,5],[-4.75,.22,5],[-3.05,.18,4],[-4.15,.16,4],[-4.3,.175,4],[-1.9,.09,4],[-4.65,.185,5],[-4.1,.24,5],[-3.95,.2,5],[-3.7,.18,5],[-3.2,.17,5],[-4.25,.09,5],[-1.4,.03,5],[-4.95,.19,6],[-4.35,.21,6],[-4.65,.23,6],[-4.1,.165,6],[-3.1,.22,6],[-2.85,.13,6],[-3.25,.08,6],[-2.6,.03,6],[-2.2,.03,6],[-1.7,.06,5],[-1.25,.07,6],[-4.9,.165,7],[-4.55,.165,7],[-4.2,.21,7],[-3.75,.22,7],[-2.7,.2,7],[-2.9,.225,7],[-2,.17,6],[-1.55,.23,7],[-1.05,.27,8],[-1.1,.25,8],[-1.15,.265,7],[-4.45,.1,8],[-4.1,.03,8],[-3.9,.005,8],[-4.45,.03,7],[-3.75,.03,7],[-3.6,.08,8],[-4.95,.105,8],[-4.7,.145,8],[-4.7,.19,8],[-1.6,.24,8],[-2.5,.13,8],[-2.6,.15,8],[-1.95,.2,8],[-1.15,.13,8],[-1.05,.17,8],[-4.85,.08,9],[-3.3,.07,9],[-3.1,.07,9],[-2.7,.08,9],[-2.5,.09,9],[-2.3,.11,9],[-2.05,.13,9],[-2.3,.07,9],[-1.75,.08,9],[-1.6,.05,9],[-1.95,.025,9],[-1.7,.02,9],[-1.4,.07,9],[-1.25,.1,9],[-1.6,.15,9],[-1.9,.155,9],[-2.1,.19,9],[-1.55,.19,9],[-1.35,.2,9],[-1.2,.17,9],[-1.1,.14,9],[-1.75,.12,9],[-1.45,.11,9],[-1.3,.14,9]];
const rruK2Fill=[[-4.9,.22,6],[-4.5,.19,6],[-4.3,.2,5],[-4,.2,6],[-3.8,.2,7],[-3.55,.21,6],[-4.75,.165,5],[-4.4,.15,6],[-3.2,.19,7],[-3,.2,8],[-2.8,.16,8],[-2.4,.2,8],[-2.2,.2,8],[-2.4,.11,8],[-1.85,.18,9],[-1.75,.2,9],[-1.35,.17,9],[-1.15,.2,9],[-1.3,.05,9],[-2.1,.07,9],[-2.5,.05,8],[-2.85,.06,8],[-3.8,.06,7]];
const rruK2Edge=[[-4.78,.072],[-4.1,.122],[-3.22,.132],[-2.14,.225],[-1.07,.237],[-1.02,.086],[-1.26,.036],[-1.58,.005],[-2.14,.009],[-2.42,.032],[-2.86,.051],[-4.5,.05],[-4.78,.072]];

// Panels: data, boundary, column, row
const panels=[
 [uraD1,uraD1Edge,0,0],[uraD2.concat(uraD2Fill),uraD2Edge,1,0],[uraAs.concat(uraAsFill),uraAsEdge,2,0],[uraAm.concat(uraAmFill),uraAmEdge,3,0],
 [razD1,razD1Edge,0,1],[razD2.concat(razD2Fill),razD2Edge,1,1],[razAs.concat(razAsFill),razAsEdge,2,1],[razAm.concat(razAmFill),razAmEdge,3,1],[razK1.concat(razK1Fill),razK1Edge,4,1],[razK2.concat(razK2Fill),razK2Edge,5,1],
 [rruD1.concat(rruD1Fill),rruD1Edge,0,2],[rruD2.concat(rruD2Fill),rruD2Edge,1,2],[rruAs.concat(rruAsFill),rruAsEdge,2,2],[rruAm.concat(rruAmFill),rruAmEdge,3,2],[rruK1.concat(rruK1Fill),rruK1Edge,4,2],[rruK2.concat(rruK2Fill),rruK2Edge,5,2]
];
const colLeft=[184,370,563,749,936,1126];
const colMin=[-3,-3,-6,-6,-5,-5];
const colTicks=[xTicksD,xTicksD,xTicksAs,xTicksAs,xTicksK,xTicksK];
const rowTop=[38,231,423];
const rowBottom=[213,406,601];
const PW=168, PAD=14, PXU=370;
const stage=document.getElementById('stage');

function hexSprite(color,w,h){
  const c=document.createElement('canvas');c.width=w+2;c.height=h+2;
  const g=c.getContext('2d');const cx=c.width/2,cy=c.height/2;
  g.fillStyle=color;g.beginPath();
  g.moveTo(cx-w/2,cy);g.lineTo(cx-w/4,cy-h/2);g.lineTo(cx+w/4,cy-h/2);g.lineTo(cx+w/2,cy);g.lineTo(cx+w/4,cy+h/2);g.lineTo(cx-w/4,cy+h/2);
  g.closePath();g.fill();return c;
}
const sprites=rankColors.map(c=>hexSprite(c,14,12));

const inwardTicks={id:'inwardTicks',afterDraw(chart){
  const {ctx,chartArea:a,scales:{x,y}}=chart;
  ctx.save();ctx.strokeStyle='#666';ctx.lineWidth=1;ctx.beginPath();
  x.ticks.forEach(t=>{const p=x.getPixelForValue(t.value);if(p>a.left+2&&p<a.right-2){ctx.moveTo(p,a.bottom);ctx.lineTo(p,a.bottom-3);}});
  y.ticks.forEach(t=>{const p=y.getPixelForValue(t.value);if(p>a.top+2&&p<a.bottom-2){ctx.moveTo(a.left,p);ctx.lineTo(a.left+3,p);}});
  ctx.stroke();ctx.restore();
}};

function text(html,x,y,size,extra){
  const d=document.createElement('div');d.className='t';d.innerHTML=html;
  d.style.left=x+'px';d.style.top=y+'px';d.style.fontSize=size+'px';
  if(extra)Object.assign(d.style,extra);
  stage.appendChild(d);return d;
}

panels.forEach(([pts,edge,col,row])=>{
  const H=rowBottom[row]-rowTop[row];
  const cv=document.createElement('canvas');
  cv.width=PW+2*PAD;cv.height=H+2*PAD;
  cv.style.left=(colLeft[col]-PAD)+'px';cv.style.top=(rowTop[row]-PAD)+'px';
  cv.style.width=cv.width+'px';cv.style.height=cv.height+'px';
  stage.appendChild(cv);
  const sorted=pts.slice().sort((a,b)=>a[2]-b[2]);
  const axisBase={display:true,ticks:{display:false},grid:{display:true,drawOnChartArea:false,drawTicks:false},border:{display:true,color:'#666',width:1.5}};
  const ch=new Chart(cv,{type:'scatter',data:{datasets:[
    {data:edge.map(p=>({x:p[0],y:p[1]})),showLine:true,borderColor:'#000',borderWidth:4,borderJoinStyle:'round',borderCapStyle:'round',pointRadius:0,tension:0,clip:false,order:0},
    {data:sorted.map(p=>({x:p[0],y:p[1]})),showLine:false,pointStyle:sorted.map(p=>sprites[p[2]]),pointRadius:6,clip:false,order:1}
  ]},options:{responsive:false,animation:false,devicePixelRatio:1,
    layout:{padding:PAD},
    plugins:{legend:{display:false},tooltip:{enabled:false}},
    scales:{
      x:{...axisBase,type:'linear',min:colMin[col],max:colMin[col]+4,afterBuildTicks(s){s.ticks=[1,2,3].map(i=>({value:colMin[col]+i}));}},
      y:{...axisBase,type:'linear',min:0,max:H/PXU,afterBuildTicks(s){s.ticks=yTickValues.map(v=>({value:v}));}}
    }},plugins:[inwardTicks]});
  const off=(v,s)=>s.getPixelForValue(v);
  if(col===0){
    yTickValues.forEach((v,i)=>{
      const py=rowTop[row]-PAD+off(v,ch.scales.y);
      text('10<sup>'+yTickExponents[i]+'</sup>',colLeft[0]-42,py-4,35);
    });
  }
  if(row===2){
    colTicks[col].forEach(v=>{
      const px=colLeft[col]-PAD+off(v,ch.scales.x);
      text('10<sup>'+v+'</sup>',px+5,622,33);
    });
  }
});

// column titles
[['1SZ',259,25],['2SZ',441,25],['1SZ',634,25],['2SZ',816,25],['1SZ',1019,219],['2SZ',1206,217]].forEach(t=>text(t[0],t[1],t[2],26));
// row labels
rowNames.forEach((n,i)=>{
  const cy=[125,320,515][i];
  text(n,29,cy,45,{transform:'translate(-50%,-50%) rotate(-90deg)'});
  text('A [m<sup>2</sup>]',84,cy,38,{transform:'translate(-50%,-50%) rotate(-90deg)'});
  const b=document.createElement('div');b.className='bar';
  b.style.left='47px';b.style.top=[36,231,423][i]+'px';b.style.height=[178,178,185][i]+'px';stage.appendChild(b);
});
// x labels
[['D',259,667,40],['D',459,667,40],['A<sub>S</sub>',660,668,42],['A<sub>MATS</sub>',823,668,40],['k',1018,667,40],['k',1214,667,40]].forEach(t=>text(t[0],t[1],t[2],t[3]));
[['[m<sup>2</sup> s<sup>-1</sup>]',265,718,37],['[m<sup>2</sup> s<sup>-1</sup>]',460,718,37],['[m<sup>2</sup>]',662,716,36],['[m<sup>2</sup>]',821,716,36],['[s<sup>-1</sup>]',1018,716,36],['[s<sup>-1</sup>]',1213,716,36]].forEach(t=>text(t[0],t[1],t[2],t[3]));
// legend
text('Performance Percentile',1043,41,26);
[['2%',914,94],['1.1%',1029,94],['0.2%',1169,94]].forEach(t=>text(t[0],t[1],t[2],26));
text('2D Boundary of',1071,132,20);
text('Top 0.2%',1071,158,20);
const NS='http://www.w3.org/2000/svg';
const svg=document.createElementNS(NS,'svg');svg.setAttribute('width',1301);svg.setAttribute('height',743);
legendColors.forEach((c,i)=>{
  const p=document.createElementNS(NS,'polygon');
  const cx=919+26*i,cy=69;
  p.setAttribute('points',[[0,-6],[5,-3],[5,3],[0,6],[-5,3],[-5,-3]].map(q=>(cx+q[0])+','+(cy+q[1])).join(' '));
  p.setAttribute('fill',c);svg.appendChild(p);
});
const g=document.createElementNS(NS,'polygon');
g.setAttribute('points','955,161 969,128 986,127 995,133 992,157 980,164 970,159');
g.setAttribute('fill','none');g.setAttribute('stroke','#000');g.setAttribute('stroke-width','3.5');g.setAttribute('stroke-linejoin','round');
svg.appendChild(g);stage.appendChild(svg);
</script></body></html>
